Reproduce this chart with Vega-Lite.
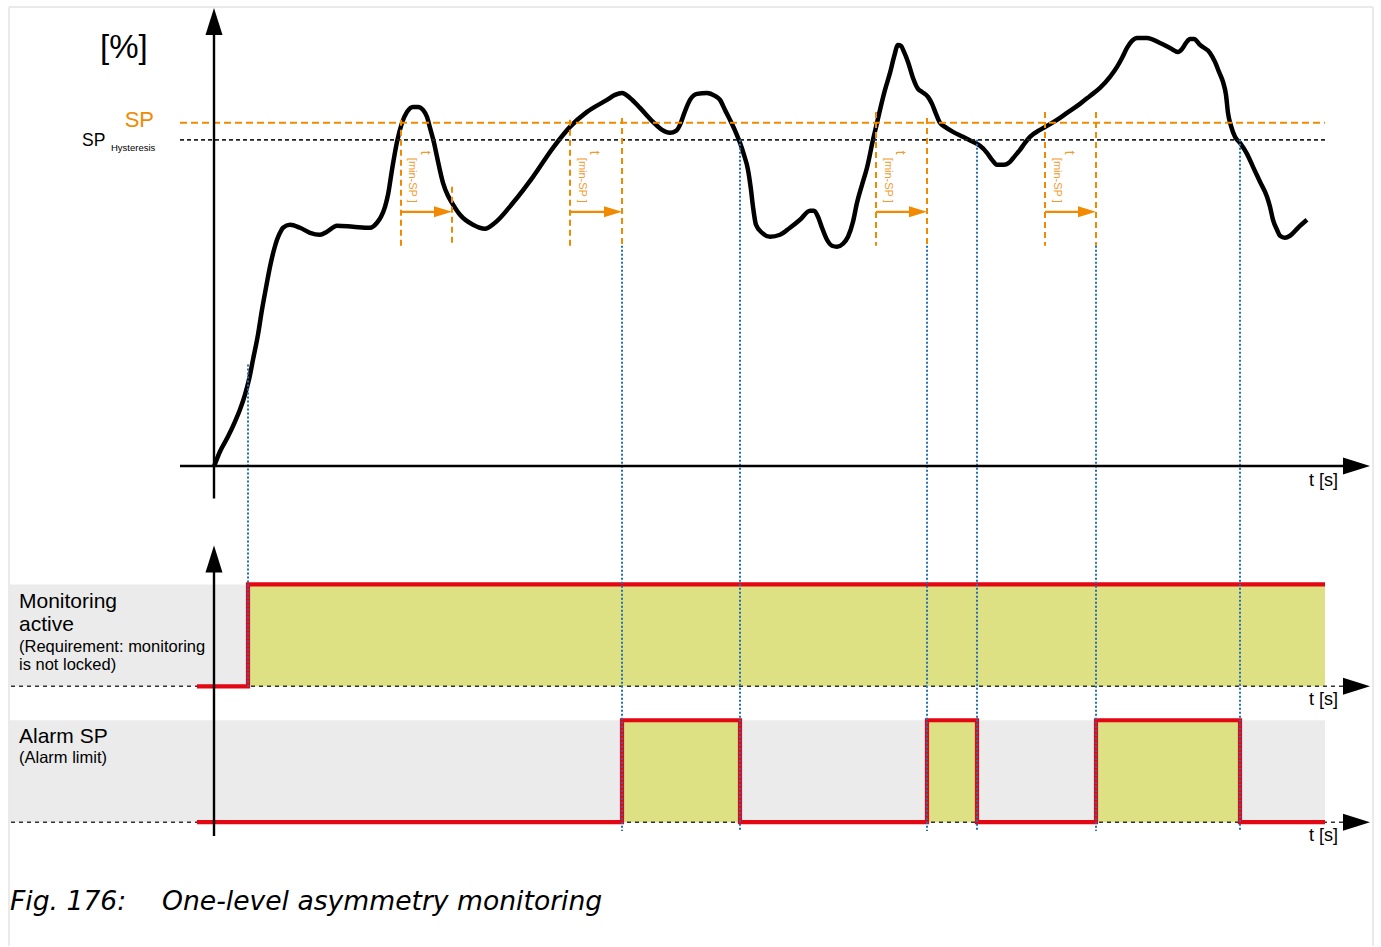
{
  "$schema": "https://vega.github.io/schema/vega-lite/v6.json",
  "width": 1381,
  "height": 947,
  "autosize": {"type": "fit", "contains": "padding"},
  "padding": 0,
  "background": "white",
  "config": {"view": {"stroke": null}},
  "encoding": {
    "x": {"field": "t", "type": "quantitative", "scale": {"domain": [0, 1381], "nice": false, "zero": false}, "axis": null},
    "y": {"field": "v", "type": "quantitative", "scale": {"domain": [0, 947], "reverse": true, "nice": false, "zero": false}, "axis": null}
  },
  "layer": [
    {
      "data": {"values": [
        {"t": 9, "v": 7, "t2": 1373, "v2": 7},
        {"t": 9, "v": 7, "t2": 9, "v2": 947},
        {"t": 1373, "v": 7, "t2": 1373, "v2": 947}
      ]},
      "mark": {"type": "rule", "stroke": "#e3e3e3", "strokeWidth": 1.5},
      "encoding": {"x2": {"field": "t2"}, "y2": {"field": "v2"}}
    },
    {
      "data": {"values": [
        {"t": 10, "v": 585, "t2": 1325, "v2": 687},
        {"t": 10, "v": 721, "t2": 1325, "v2": 823}
      ]},
      "mark": {"type": "rect", "fill": "#ebebeb"},
      "encoding": {"x2": {"field": "t2"}, "y2": {"field": "v2"}}
    },
    {
      "data": {"values": [
        {"t": 248, "v": 585, "t2": 1325, "v2": 687},
        {"t": 622, "v": 721, "t2": 740, "v2": 823},
        {"t": 927, "v": 721, "t2": 977, "v2": 823},
        {"t": 1096, "v": 721, "t2": 1240, "v2": 823}
      ]},
      "mark": {"type": "rect", "fill": "#dde183"},
      "encoding": {"x2": {"field": "t2"}, "y2": {"field": "v2"}}
    },
    {
      "data": {"values": [
        {"t": 11, "v": 687, "t2": 1345, "v2": 687},
        {"t": 11, "v": 823, "t2": 1345, "v2": 823}
      ]},
      "mark": {"type": "rule", "stroke": "#333333", "strokeWidth": 1.5, "strokeDash": [4, 4]},
      "encoding": {"x2": {"field": "t2"}, "y2": {"field": "v2"}}
    },
    {
      "data": {"values": [
        {"band": "mon", "i": 1, "t": 197, "v": 687},
        {"band": "mon", "i": 2, "t": 248, "v": 687},
        {"band": "mon", "i": 3, "t": 248, "v": 585},
        {"band": "mon", "i": 4, "t": 1325, "v": 585},
        {"band": "alarm", "i": 1, "t": 197, "v": 823},
        {"band": "alarm", "i": 2, "t": 622, "v": 823},
        {"band": "alarm", "i": 3, "t": 622, "v": 721},
        {"band": "alarm", "i": 4, "t": 740, "v": 721},
        {"band": "alarm", "i": 5, "t": 740, "v": 823},
        {"band": "alarm", "i": 6, "t": 927, "v": 823},
        {"band": "alarm", "i": 7, "t": 927, "v": 721},
        {"band": "alarm", "i": 8, "t": 977, "v": 721},
        {"band": "alarm", "i": 9, "t": 977, "v": 823},
        {"band": "alarm", "i": 10, "t": 1096, "v": 823},
        {"band": "alarm", "i": 11, "t": 1096, "v": 721},
        {"band": "alarm", "i": 12, "t": 1240, "v": 721},
        {"band": "alarm", "i": 13, "t": 1240, "v": 823},
        {"band": "alarm", "i": 14, "t": 1325, "v": 823}
      ]},
      "mark": {"type": "line", "stroke": "#e30613", "strokeWidth": 4.2, "strokeCap": "butt", "strokeJoin": "miter"},
      "encoding": {"detail": {"field": "band"}, "order": {"field": "i", "type": "quantitative"}}
    },
    {
      "data": {"values": [
        {"t": 214, "v": 467}, {"t": 220, "v": 452}, {"t": 228, "v": 437}, {"t": 235, "v": 422}, {"t": 240, "v": 410},
        {"t": 245, "v": 395}, {"t": 249, "v": 380}, {"t": 253, "v": 360}, {"t": 258, "v": 335}, {"t": 262, "v": 310},
        {"t": 266, "v": 288}, {"t": 270, "v": 267}, {"t": 274, "v": 250}, {"t": 277, "v": 240}, {"t": 280, "v": 233},
        {"t": 283, "v": 228}, {"t": 290, "v": 225}, {"t": 300, "v": 228}, {"t": 310, "v": 233}, {"t": 320, "v": 235},
        {"t": 327, "v": 232}, {"t": 337, "v": 226}, {"t": 353, "v": 227}, {"t": 370, "v": 228}, {"t": 377, "v": 223},
        {"t": 381, "v": 217}, {"t": 385, "v": 207}, {"t": 388, "v": 195}, {"t": 392, "v": 170}, {"t": 397, "v": 142},
        {"t": 402, "v": 123}, {"t": 407, "v": 112}, {"t": 413, "v": 107}, {"t": 418, "v": 107}, {"t": 423, "v": 110},
        {"t": 427, "v": 117}, {"t": 430, "v": 128}, {"t": 434, "v": 143}, {"t": 437, "v": 157}, {"t": 443, "v": 183},
        {"t": 448, "v": 196}, {"t": 452, "v": 203}, {"t": 460, "v": 215}, {"t": 473, "v": 225}, {"t": 485, "v": 229},
        {"t": 495, "v": 223}, {"t": 513, "v": 203}, {"t": 533, "v": 177}, {"t": 553, "v": 148}, {"t": 570, "v": 127},
        {"t": 587, "v": 112}, {"t": 607, "v": 100}, {"t": 615, "v": 95}, {"t": 622, "v": 93}, {"t": 630, "v": 98},
        {"t": 640, "v": 108}, {"t": 653, "v": 122}, {"t": 662, "v": 130}, {"t": 670, "v": 133}, {"t": 676, "v": 131},
        {"t": 680, "v": 125}, {"t": 684, "v": 114}, {"t": 690, "v": 100}, {"t": 697, "v": 94}, {"t": 707, "v": 93},
        {"t": 715, "v": 96}, {"t": 720, "v": 100}, {"t": 725, "v": 110}, {"t": 730, "v": 120}, {"t": 736, "v": 133},
        {"t": 740, "v": 143}, {"t": 744, "v": 155}, {"t": 748, "v": 170}, {"t": 751, "v": 190}, {"t": 753, "v": 207},
        {"t": 756, "v": 225}, {"t": 762, "v": 233}, {"t": 770, "v": 237}, {"t": 780, "v": 235}, {"t": 790, "v": 228},
        {"t": 800, "v": 220}, {"t": 810, "v": 211}, {"t": 814, "v": 211}, {"t": 818, "v": 217}, {"t": 822, "v": 228},
        {"t": 827, "v": 240}, {"t": 832, "v": 246}, {"t": 837, "v": 247}, {"t": 843, "v": 244}, {"t": 848, "v": 237},
        {"t": 853, "v": 222}, {"t": 857, "v": 203}, {"t": 862, "v": 185}, {"t": 867, "v": 168}, {"t": 873, "v": 140},
        {"t": 877, "v": 123}, {"t": 880, "v": 110}, {"t": 885, "v": 90}, {"t": 890, "v": 73}, {"t": 894, "v": 57},
        {"t": 898, "v": 45}, {"t": 901, "v": 46}, {"t": 904, "v": 52}, {"t": 908, "v": 62}, {"t": 913, "v": 78},
        {"t": 918, "v": 89}, {"t": 922, "v": 92}, {"t": 928, "v": 97}, {"t": 932, "v": 104}, {"t": 936, "v": 114},
        {"t": 940, "v": 123}, {"t": 945, "v": 127}, {"t": 953, "v": 132}, {"t": 963, "v": 137}, {"t": 973, "v": 142},
        {"t": 980, "v": 146}, {"t": 987, "v": 153}, {"t": 992, "v": 160}, {"t": 997, "v": 165}, {"t": 1004, "v": 165},
        {"t": 1010, "v": 162}, {"t": 1015, "v": 156}, {"t": 1020, "v": 150}, {"t": 1025, "v": 143}, {"t": 1030, "v": 137},
        {"t": 1040, "v": 130}, {"t": 1047, "v": 126}, {"t": 1060, "v": 118}, {"t": 1067, "v": 113}, {"t": 1080, "v": 104},
        {"t": 1090, "v": 96}, {"t": 1100, "v": 88}, {"t": 1110, "v": 77}, {"t": 1117, "v": 67}, {"t": 1122, "v": 58},
        {"t": 1127, "v": 48}, {"t": 1132, "v": 41}, {"t": 1137, "v": 38}, {"t": 1147, "v": 38}, {"t": 1160, "v": 43},
        {"t": 1170, "v": 48}, {"t": 1178, "v": 52}, {"t": 1182, "v": 49}, {"t": 1186, "v": 43}, {"t": 1190, "v": 39},
        {"t": 1194, "v": 39}, {"t": 1200, "v": 45}, {"t": 1210, "v": 53}, {"t": 1215, "v": 62}, {"t": 1219, "v": 72},
        {"t": 1223, "v": 82}, {"t": 1226, "v": 95}, {"t": 1228, "v": 113}, {"t": 1231, "v": 126}, {"t": 1235, "v": 137},
        {"t": 1240, "v": 143}, {"t": 1247, "v": 154}, {"t": 1253, "v": 167}, {"t": 1260, "v": 182}, {"t": 1267, "v": 197},
        {"t": 1270, "v": 207}, {"t": 1273, "v": 220}, {"t": 1277, "v": 230}, {"t": 1280, "v": 236}, {"t": 1285, "v": 238},
        {"t": 1290, "v": 236}, {"t": 1298, "v": 228}, {"t": 1307, "v": 220}
      ]},
      "mark": {"type": "line", "stroke": "black", "strokeWidth": 4.5, "interpolate": "monotone", "strokeCap": "butt"}
    },
    {
      "data": {"values": [{"t": 180, "v": 123, "t2": 1325, "v2": 123}]},
      "mark": {"type": "rule", "stroke": "#f18a00", "strokeWidth": 2, "strokeDash": [7, 4]},
      "encoding": {"x2": {"field": "t2"}, "y2": {"field": "v2"}}
    },
    {
      "data": {"values": [{"t": 180, "v": 140, "t2": 1325, "v2": 140}]},
      "mark": {"type": "rule", "stroke": "#222222", "strokeWidth": 1.6, "strokeDash": [4, 3]},
      "encoding": {"x2": {"field": "t2"}, "y2": {"field": "v2"}}
    },
    {
      "data": {"values": [
        {"t": 401, "v": 120, "t2": 401, "v2": 246},
        {"t": 452, "v": 187, "t2": 452, "v2": 246},
        {"t": 570, "v": 120, "t2": 570, "v2": 246},
        {"t": 622, "v": 118, "t2": 622, "v2": 246},
        {"t": 876, "v": 112, "t2": 876, "v2": 246},
        {"t": 927, "v": 118, "t2": 927, "v2": 246},
        {"t": 1045, "v": 112, "t2": 1045, "v2": 246},
        {"t": 1096, "v": 112, "t2": 1096, "v2": 246}
      ]},
      "mark": {"type": "rule", "stroke": "#f18a00", "strokeWidth": 2, "strokeDash": [6, 4]},
      "encoding": {"x2": {"field": "t2"}, "y2": {"field": "v2"}}
    },
    {
      "data": {"values": [
        {"t": 401, "v": 212, "t2": 438, "v2": 212},
        {"t": 570, "v": 212, "t2": 608, "v2": 212},
        {"t": 876, "v": 212, "t2": 913, "v2": 212},
        {"t": 1045, "v": 212, "t2": 1082, "v2": 212}
      ]},
      "mark": {"type": "rule", "stroke": "#f18a00", "strokeWidth": 2.2},
      "encoding": {"x2": {"field": "t2"}, "y2": {"field": "v2"}}
    },
    {
      "data": {"values": [
        {"t": 443, "v": 212}, {"t": 613, "v": 212}, {"t": 918, "v": 212}, {"t": 1087, "v": 212}
      ]},
      "mark": {"type": "point", "shape": "M 1 0 L -1 -0.62 L -1 0.62 Z", "size": 324, "filled": true, "fill": "#f18a00", "strokeWidth": 0, "opacity": 1}
    },
    {
      "data": {"values": [
        {"t": 248, "v": 365, "t2": 248, "v2": 688},
        {"t": 622, "v": 246, "t2": 622, "v2": 832},
        {"t": 740, "v": 140, "t2": 740, "v2": 832},
        {"t": 927, "v": 246, "t2": 927, "v2": 832},
        {"t": 977, "v": 140, "t2": 977, "v2": 832},
        {"t": 1096, "v": 246, "t2": 1096, "v2": 832},
        {"t": 1240, "v": 140, "t2": 1240, "v2": 832}
      ]},
      "mark": {"type": "rule", "stroke": "#1f70b8", "strokeWidth": 2, "strokeDash": [2, 2]},
      "encoding": {"x2": {"field": "t2"}, "y2": {"field": "v2"}}
    },
    {
      "data": {"values": [
        {"t": 214, "v": 30, "t2": 214, "v2": 499},
        {"t": 180, "v": 466.5, "t2": 1348, "v2": 466.5},
        {"t": 214, "v": 568, "t2": 214, "v2": 837}
      ]},
      "mark": {"type": "rule", "stroke": "black", "strokeWidth": 2.4},
      "encoding": {"x2": {"field": "t2"}, "y2": {"field": "v2"}}
    },
    {
      "data": {"values": [{"t": 214, "v": 21.5}, {"t": 214, "v": 559.5}]},
      "mark": {"type": "point", "shape": "M 0 -1 L 0.63 1 L -0.63 1 Z", "size": 729, "filled": true, "fill": "black", "strokeWidth": 0, "opacity": 1}
    },
    {
      "data": {"values": [{"t": 1356.5, "v": 466.5}, {"t": 1356.5, "v": 687}, {"t": 1356.5, "v": 823}]},
      "mark": {"type": "point", "shape": "M 1 0 L -1 -0.63 L -1 0.63 Z", "size": 729, "filled": true, "fill": "black", "strokeWidth": 0, "opacity": 1}
    },
    {
      "data": {"values": [{"label": "[%]", "t": 100, "v": 58}]},
      "mark": {"type": "text", "font": "Liberation Sans", "fontSize": 33, "align": "left", "baseline": "alphabetic", "fill": "black"},
      "encoding": {"text": {"field": "label"}}
    },
    {
      "data": {"values": [{"label": "SP", "t": 154, "v": 127}]},
      "mark": {"type": "text", "font": "Liberation Sans", "fontSize": 22, "align": "right", "baseline": "alphabetic", "fill": "#f18a00"},
      "encoding": {"text": {"field": "label"}}
    },
    {
      "data": {"values": [{"label": "SP", "t": 82, "v": 146}]},
      "mark": {"type": "text", "font": "Liberation Sans", "fontSize": 17.5, "align": "left", "baseline": "alphabetic", "fill": "black"},
      "encoding": {"text": {"field": "label"}}
    },
    {
      "data": {"values": [{"label": "Hysteresis", "t": 111, "v": 151}]},
      "mark": {"type": "text", "font": "Liberation Sans", "fontSize": 9.5, "align": "left", "baseline": "alphabetic", "fill": "black"},
      "encoding": {"text": {"field": "label"}}
    },
    {
      "data": {"values": [
        {"label": "t [s]", "t": 1338, "v": 487},
        {"label": "t [s]", "t": 1338, "v": 706},
        {"label": "t [s]", "t": 1338, "v": 842}
      ]},
      "mark": {"type": "text", "font": "Liberation Sans", "fontSize": 18, "align": "right", "baseline": "alphabetic", "fill": "black"},
      "encoding": {"text": {"field": "label"}}
    },
    {
      "data": {"values": [
        {"label": "Monitoring", "t": 19, "v": 609},
        {"label": "active", "t": 19, "v": 632},
        {"label": "Alarm SP", "t": 19, "v": 744}
      ]},
      "mark": {"type": "text", "font": "Liberation Sans", "fontSize": 21, "align": "left", "baseline": "alphabetic", "fill": "black"},
      "encoding": {"text": {"field": "label"}}
    },
    {
      "data": {"values": [
        {"label": "(Requirement: monitoring", "t": 19, "v": 653},
        {"label": "is not locked)", "t": 19, "v": 671},
        {"label": "(Alarm limit)", "t": 19, "v": 764}
      ]},
      "mark": {"type": "text", "font": "Liberation Sans", "fontSize": 16.5, "align": "left", "baseline": "alphabetic", "fill": "black"},
      "encoding": {"text": {"field": "label"}}
    },
    {
      "data": {"values": [
        {"label": "t", "t": 421, "v": 151},
        {"label": "t", "t": 590, "v": 151},
        {"label": "t", "t": 896, "v": 151},
        {"label": "t", "t": 1065, "v": 151}
      ]},
      "mark": {"type": "text", "font": "Liberation Sans", "fontSize": 14, "align": "left", "baseline": "alphabetic", "angle": 90, "fill": "#f29a2e"},
      "encoding": {"text": {"field": "label"}}
    },
    {
      "data": {"values": [
        {"label": "[min-SP ]", "t": 409, "v": 158},
        {"label": "[min-SP ]", "t": 579, "v": 158},
        {"label": "[min-SP ]", "t": 885, "v": 158},
        {"label": "[min-SP ]", "t": 1054, "v": 158}
      ]},
      "mark": {"type": "text", "font": "Liberation Sans", "fontSize": 11, "align": "left", "baseline": "alphabetic", "angle": 90, "fill": "#f29a2e"},
      "encoding": {"text": {"field": "label"}}
    },
    {
      "data": {"values": [
        {"label": "Fig. 176:", "t": 10, "v": 911},
        {"label": "One-level asymmetry monitoring", "t": 162, "v": 911}
      ]},
      "mark": {"type": "text", "font": "DejaVu Sans", "fontStyle": "italic", "fontSize": 26.6, "align": "left", "baseline": "alphabetic", "fill": "black"},
      "encoding": {"text": {"field": "label"}}
    }
  ]
}
